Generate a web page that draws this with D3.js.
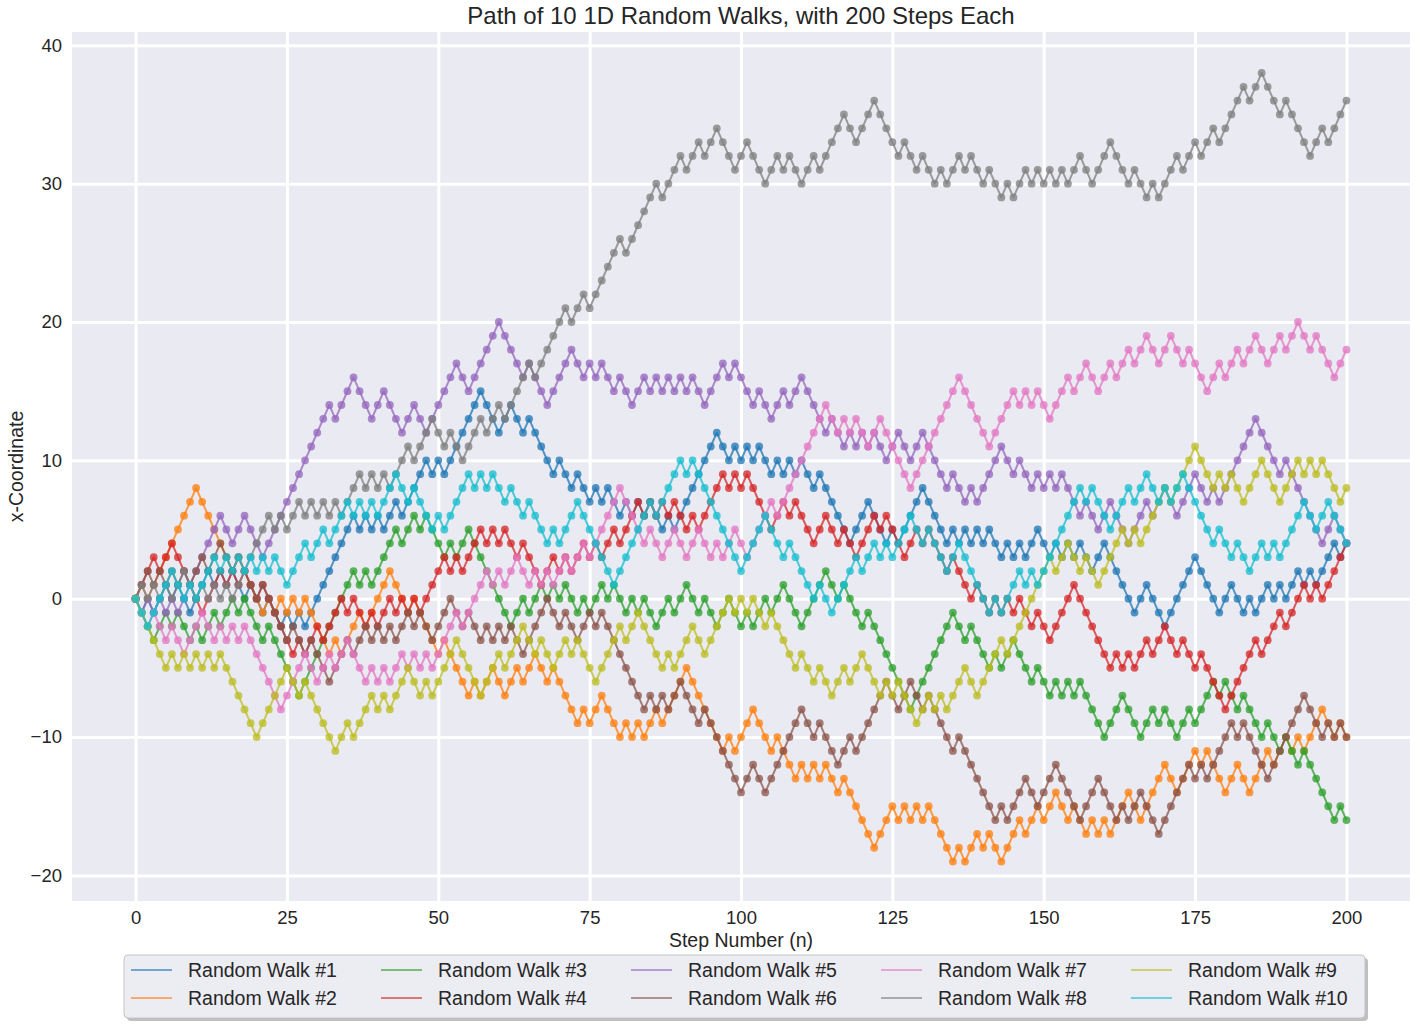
<!DOCTYPE html>
<html>
<head>
<meta charset="utf-8">
<title>Path of 10 1D Random Walks</title>
<script src="https://cdn.jsdelivr.net/npm/d3@7"></script>
<style>
    html, body { margin: 0; padding: 0; background: #ffffff; }
    svg { display: block; font-family: "Liberation Sans", Arial, sans-serif; }
</style>
</head>
<body>
<svg id="chart" width="1420" height="1025"></svg>
<script>
/***DATA (positions, one value per step 0..200)***/
const walk1 = [
    0,-1,0,-1,0,1,0,1,0,-1, 0,1,2,1,2,1,2,1,0,1, 0,-1,0,-1,-2,-1,-2,-1,-2,-1, 0,1,2,3,4,5,6,5,6,5,
    6,5,6,7,6,7,8,9,10,9, 10,9,10,11,12,13,14,15,14,13, 12,13,14,13,12,13,12,11,10,9, 10,9,8,9,8,7,8,7,8,7,
    6,7,6,7,6,7,6,5,6,5, 6,7,8,9,10,11,12,11,10,11, 10,11,10,11,10,9,10,9,10,9, 10,9,8,9,8,7,6,5,4,5,
    6,7,6,5,4,5,4,5,6,7, 8,7,6,5,4,5,4,5,4,5, 4,5,4,3,4,3,4,3,4,5, 4,3,4,3,4,3,4,3,2,3,
    4,3,2,1,0,-1,0,1,0,-1, -2,-1,0,1,2,3,2,1,0,-1, 0,1,0,-1,0,-1,0,1,0,1, 0,1,2,1,2,1,2,3,4,3,
    4
];
const walk2 = [
    0,1,0,1,2,3,4,5,6,7, 8,7,6,5,4,3,2,3,2,1, 0,-1,0,-1,0,-1,0,-1,0,-1, -2,-3,-4,-3,-4,-3,-2,-1,-2,-1,
    0,1,2,1,0,-1,0,-1,-2,-3, -4,-3,-4,-5,-6,-7,-6,-7,-6,-5, -6,-7,-6,-5,-6,-5,-4,-5,-6,-5, -6,-7,-8,-9,-8,-9,-8,-7,-8,-9,
    -10,-9,-10,-9,-10,-9,-8,-9,-8,-7, -6,-5,-6,-7,-8,-9,-10,-11,-10,-11, -10,-9,-8,-9,-10,-11,-10,-11,-12,-13, -12,-13,-12,-13,-12,-13,-14,-13,-14,-15,
    -16,-17,-18,-17,-16,-15,-16,-15,-16,-15, -16,-15,-16,-17,-18,-19,-18,-19,-18,-17, -18,-17,-18,-19,-18,-17,-16,-17,-16,-15, -16,-15,-14,-15,-16,-15,-16,-17,-16,-17,
    -16,-17,-16,-15,-14,-15,-16,-15,-14,-13, -12,-13,-14,-13,-12,-11,-12,-11,-12,-13, -14,-13,-12,-13,-14,-13,-12,-11,-12,-11, -10,-11,-10,-11,-10,-9,-8,-9,-10,-9,
    -10
];
const walk3 = [
    0,-1,-2,-3,-2,-1,-2,-1,-2,-3, -2,-3,-2,-1,-2,-1,0,-1,0,-1, -2,-3,-2,-3,-4,-5,-6,-7,-6,-5, -4,-3,-2,-1,0,1,2,1,2,1,
    2,3,4,5,4,5,6,5,6,5, 4,3,4,3,4,5,4,3,2,1, 0,-1,-2,-1,0,-1,0,1,0,1, 0,1,0,-1,0,-1,0,1,0,1,
    0,-1,0,-1,0,-1,-2,-1,0,-1, 0,1,0,-1,0,-1,-2,-1,0,-1, -2,-1,-2,-1,0,-1,0,1,0,-1, -2,-1,0,1,2,1,0,1,0,-1,
    -2,-1,-2,-3,-4,-5,-6,-7,-8,-7, -6,-5,-4,-3,-2,-1,-2,-3,-2,-3, -4,-5,-4,-5,-4,-3,-4,-5,-6,-5, -6,-7,-6,-7,-6,-7,-6,-7,-8,-9,
    -10,-9,-8,-7,-8,-9,-10,-9,-8,-9, -8,-9,-10,-9,-8,-9,-8,-7,-6,-7, -6,-7,-8,-7,-8,-9,-10,-9,-10,-11, -10,-11,-12,-11,-12,-13,-14,-15,-16,-15,
    -16
];
const walk4 = [
    0,1,2,3,2,3,4,3,2,1, 0,-1,0,1,2,1,2,1,2,1, 0,1,0,-1,-2,-3,-4,-3,-4,-3, -2,-3,-2,-1,0,-1,0,-1,-2,-1,
    -2,-1,0,-1,0,-1,0,-1,0,1, 2,3,2,3,2,3,4,5,4,5, 4,5,4,3,4,3,2,1,2,3, 2,3,2,3,4,3,4,3,4,5,
    4,5,6,7,6,7,6,7,6,7, 6,5,6,5,6,7,8,9,8,9, 8,9,8,7,6,5,6,7,6,7, 6,5,4,5,6,5,4,5,4,3,
    4,5,6,5,6,5,4,3,4,5, 4,5,4,3,2,3,2,1,0,1, 0,-1,0,-1,0,-1,0,-1,-2,-1, -2,-3,-2,-1,0,1,0,-1,-2,-3,
    -4,-5,-4,-5,-4,-5,-4,-3,-4,-3, -2,-3,-4,-3,-4,-5,-4,-5,-6,-7, -8,-7,-6,-5,-4,-3,-4,-3,-2,-1, -2,-1,0,1,0,1,0,1,2,3,
    4
];
const walk5 = [
    0,-1,0,-1,0,-1,0,-1,0,1, 2,3,4,5,6,5,4,5,6,5, 4,3,4,5,6,7,8,9,10,11, 12,13,14,13,14,15,16,15,14,13,
    14,15,14,13,12,13,14,13,12,13, 14,15,16,17,16,15,16,17,18,19, 20,19,18,17,16,17,16,15,14,15, 16,17,18,17,16,17,16,17,16,15,
    16,15,14,15,16,15,16,15,16,15, 16,15,16,15,14,15,16,17,16,17, 16,15,14,15,14,13,14,15,14,15, 16,15,14,13,12,13,12,11,12,11,
    12,11,12,11,10,11,12,11,10,11, 12,11,10,9,8,9,8,7,8,7, 8,9,10,11,10,9,10,9,8,9, 8,9,8,9,8,7,6,7,6,5,
    6,7,6,5,4,5,6,7,6,7, 8,7,6,7,8,9,8,7,8,7, 8,9,10,11,12,13,12,11,10,9, 10,9,8,7,6,5,4,5,6,5,
    4
];
const walk6 = [
    0,1,2,1,2,1,2,1,2,1, 2,3,2,3,4,3,2,3,2,1, 0,1,0,-1,-2,-3,-2,-3,-4,-3, -4,-5,-6,-5,-4,-3,-4,-3,-2,-3,
    -2,-3,-2,-3,-2,-1,-2,-1,-2,-3, -2,-1,0,-1,-2,-1,-2,-3,-2,-3, -2,-3,-2,-3,-4,-3,-2,-1,0,-1, -2,-1,-2,-3,-2,-1,-2,-1,-2,-3,
    -4,-5,-6,-7,-8,-7,-8,-7,-8,-7, -6,-7,-8,-9,-8,-9,-10,-11,-12,-13, -14,-13,-12,-13,-14,-13,-12,-11,-10,-9, -8,-9,-10,-9,-10,-11,-12,-11,-10,-11,
    -10,-9,-8,-7,-6,-7,-8,-7,-6,-7, -8,-7,-8,-9,-10,-11,-10,-11,-12,-13, -14,-15,-16,-15,-16,-15,-14,-13,-14,-15, -14,-13,-12,-13,-14,-15,-16,-15,-14,-13,
    -14,-15,-16,-15,-16,-15,-14,-15,-16,-17, -16,-15,-14,-13,-12,-13,-12,-13,-12,-11, -10,-9,-10,-9,-10,-11,-12,-13,-12,-11, -10,-9,-8,-7,-8,-9,-10,-9,-10,-9,
    -10
];
const walk7 = [
    0,-1,-2,-1,-2,-3,-2,-3,-4,-3, -2,-1,-2,-3,-2,-3,-2,-3,-2,-3, -4,-5,-6,-7,-8,-7,-6,-5,-4,-5, -6,-5,-4,-5,-4,-3,-4,-5,-6,-5,
    -6,-5,-6,-5,-4,-5,-4,-5,-4,-5, -4,-3,-2,-1,-2,-1,0,1,2,1, 2,1,2,3,2,1,2,1,2,1, 2,3,2,3,4,3,4,5,6,7,
    8,7,6,5,4,5,4,3,4,5, 4,3,4,5,4,3,4,3,4,5, 4,3,4,5,6,7,6,7,8,9, 10,11,12,13,14,13,12,13,12,13,
    12,11,12,13,12,11,10,9,8,9, 10,11,12,13,14,15,16,15,14,13, 12,11,12,13,14,15,14,15,14,15, 14,13,14,15,16,15,16,17,16,15,
    16,17,16,17,18,17,18,19,18,17, 18,19,18,17,18,17,16,15,16,17, 16,17,18,17,18,19,18,17,18,19, 18,19,20,19,18,19,18,17,16,17,
    18
];
const walk8 = [
    0,1,0,1,0,1,0,1,2,1, 0,1,0,1,0,1,0,1,2,3, 4,5,6,5,6,5,6,7,6,7, 6,7,6,7,6,7,8,9,8,9,
    8,9,8,9,10,11,10,11,12,13, 12,11,12,11,10,11,12,13,12,13, 14,13,14,15,16,17,16,17,18,19, 20,21,20,21,22,21,22,23,24,25,
    26,25,26,27,28,29,30,29,30,31, 32,31,32,33,32,33,34,33,32,31, 32,33,32,31,30,31,32,31,32,31, 30,31,32,31,32,33,34,35,34,33,
    34,35,36,35,34,33,32,33,32,31, 32,31,30,31,30,31,32,31,32,31, 30,31,30,29,30,29,30,31,30,31, 30,31,30,31,30,31,32,31,30,31,
    32,33,32,31,30,31,30,29,30,29, 30,31,32,31,32,33,32,33,34,33, 34,35,36,37,36,37,38,37,36,35, 36,35,34,33,32,33,34,33,34,35,
    36
];
const walk9 = [
    0,-1,-2,-3,-4,-5,-4,-5,-4,-5, -4,-5,-4,-5,-4,-5,-6,-7,-8,-9, -10,-9,-8,-7,-6,-5,-6,-7,-6,-7, -8,-9,-10,-11,-10,-9,-10,-9,-8,-7,
    -8,-7,-8,-7,-6,-5,-6,-7,-6,-7, -6,-5,-4,-3,-4,-5,-6,-7,-6,-5, -4,-5,-4,-3,-2,-3,-4,-3,-4,-5, -4,-3,-4,-3,-4,-5,-6,-5,-4,-3,
    -2,-3,-2,-1,-2,-3,-4,-5,-4,-5, -4,-3,-2,-3,-4,-3,-2,-1,0,-1, 0,-1,0,-1,-2,-1,-2,-3,-4,-5, -4,-5,-6,-5,-6,-7,-6,-5,-6,-5,
    -4,-5,-6,-7,-6,-7,-6,-7,-8,-9, -8,-7,-8,-7,-8,-7,-6,-5,-6,-7, -6,-5,-4,-3,-4,-3,-2,-1,0,1, 2,3,2,3,4,3,2,3,2,1,
    2,3,4,5,4,5,4,5,6,7, 8,7,8,9,10,11,10,9,8,9, 8,9,8,7,8,9,10,9,8,7, 8,9,10,9,10,9,10,9,8,7,
    8
];
const walk10 = [
    0,-1,-2,-1,0,1,2,1,0,1, 0,1,2,3,2,3,2,3,2,3, 2,3,2,3,2,1,2,3,4,3, 4,5,4,5,6,7,6,7,6,7,
    6,7,8,9,8,7,8,7,6,5, 6,5,6,7,8,9,8,9,8,9, 8,7,8,7,6,7,6,5,4,5, 4,5,6,7,6,5,4,3,2,1,
    2,3,4,5,6,7,6,7,8,9, 10,9,10,9,8,7,6,5,4,3, 2,3,4,5,6,5,4,3,4,3, 2,1,0,1,0,-1,0,1,2,3,
    2,3,4,3,4,3,4,5,6,5, 4,5,4,3,2,3,4,3,2,1, 0,-1,0,-1,0,1,2,1,2,1, 2,3,4,5,6,7,8,7,8,7,
    6,5,6,7,8,7,8,9,8,7, 8,7,8,9,8,7,6,5,4,5, 4,3,4,3,2,3,4,3,4,3, 4,5,6,7,6,5,6,7,6,5,
    4
];

const walks = [walk1, walk2, walk3, walk4, walk5, walk6, walk7, walk8, walk9, walk10];
const seriesNames = ["Random Walk #1", "Random Walk #2", "Random Walk #3", "Random Walk #4", "Random Walk #5",
                     "Random Walk #6", "Random Walk #7", "Random Walk #8", "Random Walk #9", "Random Walk #10"];
const seriesColors = ["#1f77b4", "#ff7f0e", "#2ca02c", "#d62728", "#9467bd",
                      "#8c564b", "#e377c2", "#7f7f7f", "#bcbd22", "#17becf"];
const xTicks = [0, 25, 50, 75, 100, 125, 150, 175, 200];
const yTicks = [-20, -10, 0, 10, 20, 30, 40];

const TITLE = "Path of 10 1D Random Walks, with 200 Steps Each";
const X_LABEL = "Step Number (n)";
const Y_LABEL = "x-Coordinate";


/***LAYOUT***/
const plot = {left: 72, right: 1410, top: 32, bottom: 901};
const TEXT_COLOR = "#262626";
const GRID_COLOR = "#ffffff";
const FACE_COLOR = "#eaeaf2";

const x = d3.scaleLinear().domain([-10.5, 210.5]).range([plot.left, plot.right]);
const y = d3.scaleLinear().domain([-21.85, 40.96]).range([plot.bottom, plot.top]);

const svg = d3.select("#chart");

// axes background
svg.append("rect")
   .attr("x", plot.left)
   .attr("y", plot.top)
   .attr("width", plot.right - plot.left)
   .attr("height", plot.bottom - plot.top)
   .attr("fill", FACE_COLOR);

// grid lines
const gridX = svg.append("g")
                 .attr("transform", `translate(0,${plot.bottom})`)
                 .call(d3.axisBottom(x).tickValues(xTicks).tickSize(-(plot.bottom - plot.top)).tickFormat(""));
const gridY = svg.append("g")
                 .attr("transform", `translate(${plot.left},0)`)
                 .call(d3.axisLeft(y).tickValues(yTicks).tickSize(-(plot.right - plot.left)).tickFormat(""));
for (const g of [gridX, gridY]) {
    g.select(".domain").remove();
    g.selectAll(".tick line").attr("stroke", GRID_COLOR).attr("stroke-width", 3);
}

// tick labels
const axisX = svg.append("g")
                 .attr("transform", `translate(0,${plot.bottom})`)
                 .call(d3.axisBottom(x).tickValues(xTicks).tickSize(0).tickPadding(10));
const axisY = svg.append("g")
                 .attr("transform", `translate(${plot.left},0)`)
                 .call(d3.axisLeft(y).tickValues(yTicks).tickSize(0).tickPadding(10));
for (const g of [axisX, axisY]) {
    g.select(".domain").remove();
    g.selectAll(".tick text")
     .attr("fill", TEXT_COLOR)
     .style("font-family", "'Liberation Sans', Arial, sans-serif")
     .style("font-size", "18.5px");
}

// the walks, each as a line with circle markers
const line = d3.line()
               .x((d, i) => x(i))
               .y(d => y(d));

const series = svg.append("g").attr("class", "walks");
walks.forEach((walk, k) => {
    const g = series.append("g");
    g.append("path")
     .datum(walk)
     .attr("d", line)
     .attr("fill", "none")
     .attr("stroke", seriesColors[k])
     .attr("stroke-width", 2)
     .attr("stroke-opacity", 0.75)
     .attr("stroke-linejoin", "round");
    g.selectAll("circle")
     .data(walk)
     .join("circle")
     .attr("cx", (d, i) => x(i))
     .attr("cy", d => y(d))
     .attr("r", 3.9)
     .attr("fill", seriesColors[k])
     .attr("fill-opacity", 0.76);
});

// title and axis labels
svg.append("text")
   .attr("x", (plot.left + plot.right) / 2)
   .attr("y", 24)
   .attr("text-anchor", "middle")
   .attr("fill", TEXT_COLOR)
   .style("font-size", "24px")
   .text(TITLE);

svg.append("text")
   .attr("x", (plot.left + plot.right) / 2)
   .attr("y", 947)
   .attr("text-anchor", "middle")
   .attr("fill", TEXT_COLOR)
   .style("font-size", "19.5px")
   .text(X_LABEL);

svg.append("text")
   .attr("transform", `translate(23,${(plot.top + plot.bottom) / 2}) rotate(-90)`)
   .attr("text-anchor", "middle")
   .attr("fill", TEXT_COLOR)
   .style("font-size", "19.5px")
   .text(Y_LABEL);

// legend, 5 columns x 2 rows, with a drop shadow
const legend = {x: 124, y: 955, width: 1241, height: 63, colWidth: 250, rowY: [970, 998]};
svg.append("rect")
   .attr("x", legend.x + 3)
   .attr("y", legend.y + 3)
   .attr("width", legend.width)
   .attr("height", legend.height)
   .attr("rx", 4)
   .attr("fill", "#8a8a8a")
   .attr("fill-opacity", 0.55);
svg.append("rect")
   .attr("x", legend.x)
   .attr("y", legend.y)
   .attr("width", legend.width)
   .attr("height", legend.height)
   .attr("rx", 4)
   .attr("fill", "#ececf3")
   .attr("stroke", "#c4c4c4")
   .attr("stroke-width", 1);

const entries = svg.append("g")
                   .selectAll("g")
                   .data(seriesNames)
                   .join("g")
                   .attr("transform", (d, i) => `translate(${legend.x + 7 + Math.floor(i / 2) * legend.colWidth},${legend.rowY[i % 2]})`);
entries.append("line")
       .attr("x1", 0)
       .attr("x2", 41)
       .attr("stroke", (d, i) => seriesColors[i])
       .attr("stroke-opacity", 0.6)
       .attr("stroke-width", 2);
entries.append("text")
       .attr("x", 57)
       .attr("dy", "0.35em")
       .attr("fill", TEXT_COLOR)
       .style("font-size", "19.5px")
       .text(d => d);
</script>
</body>
</html>
